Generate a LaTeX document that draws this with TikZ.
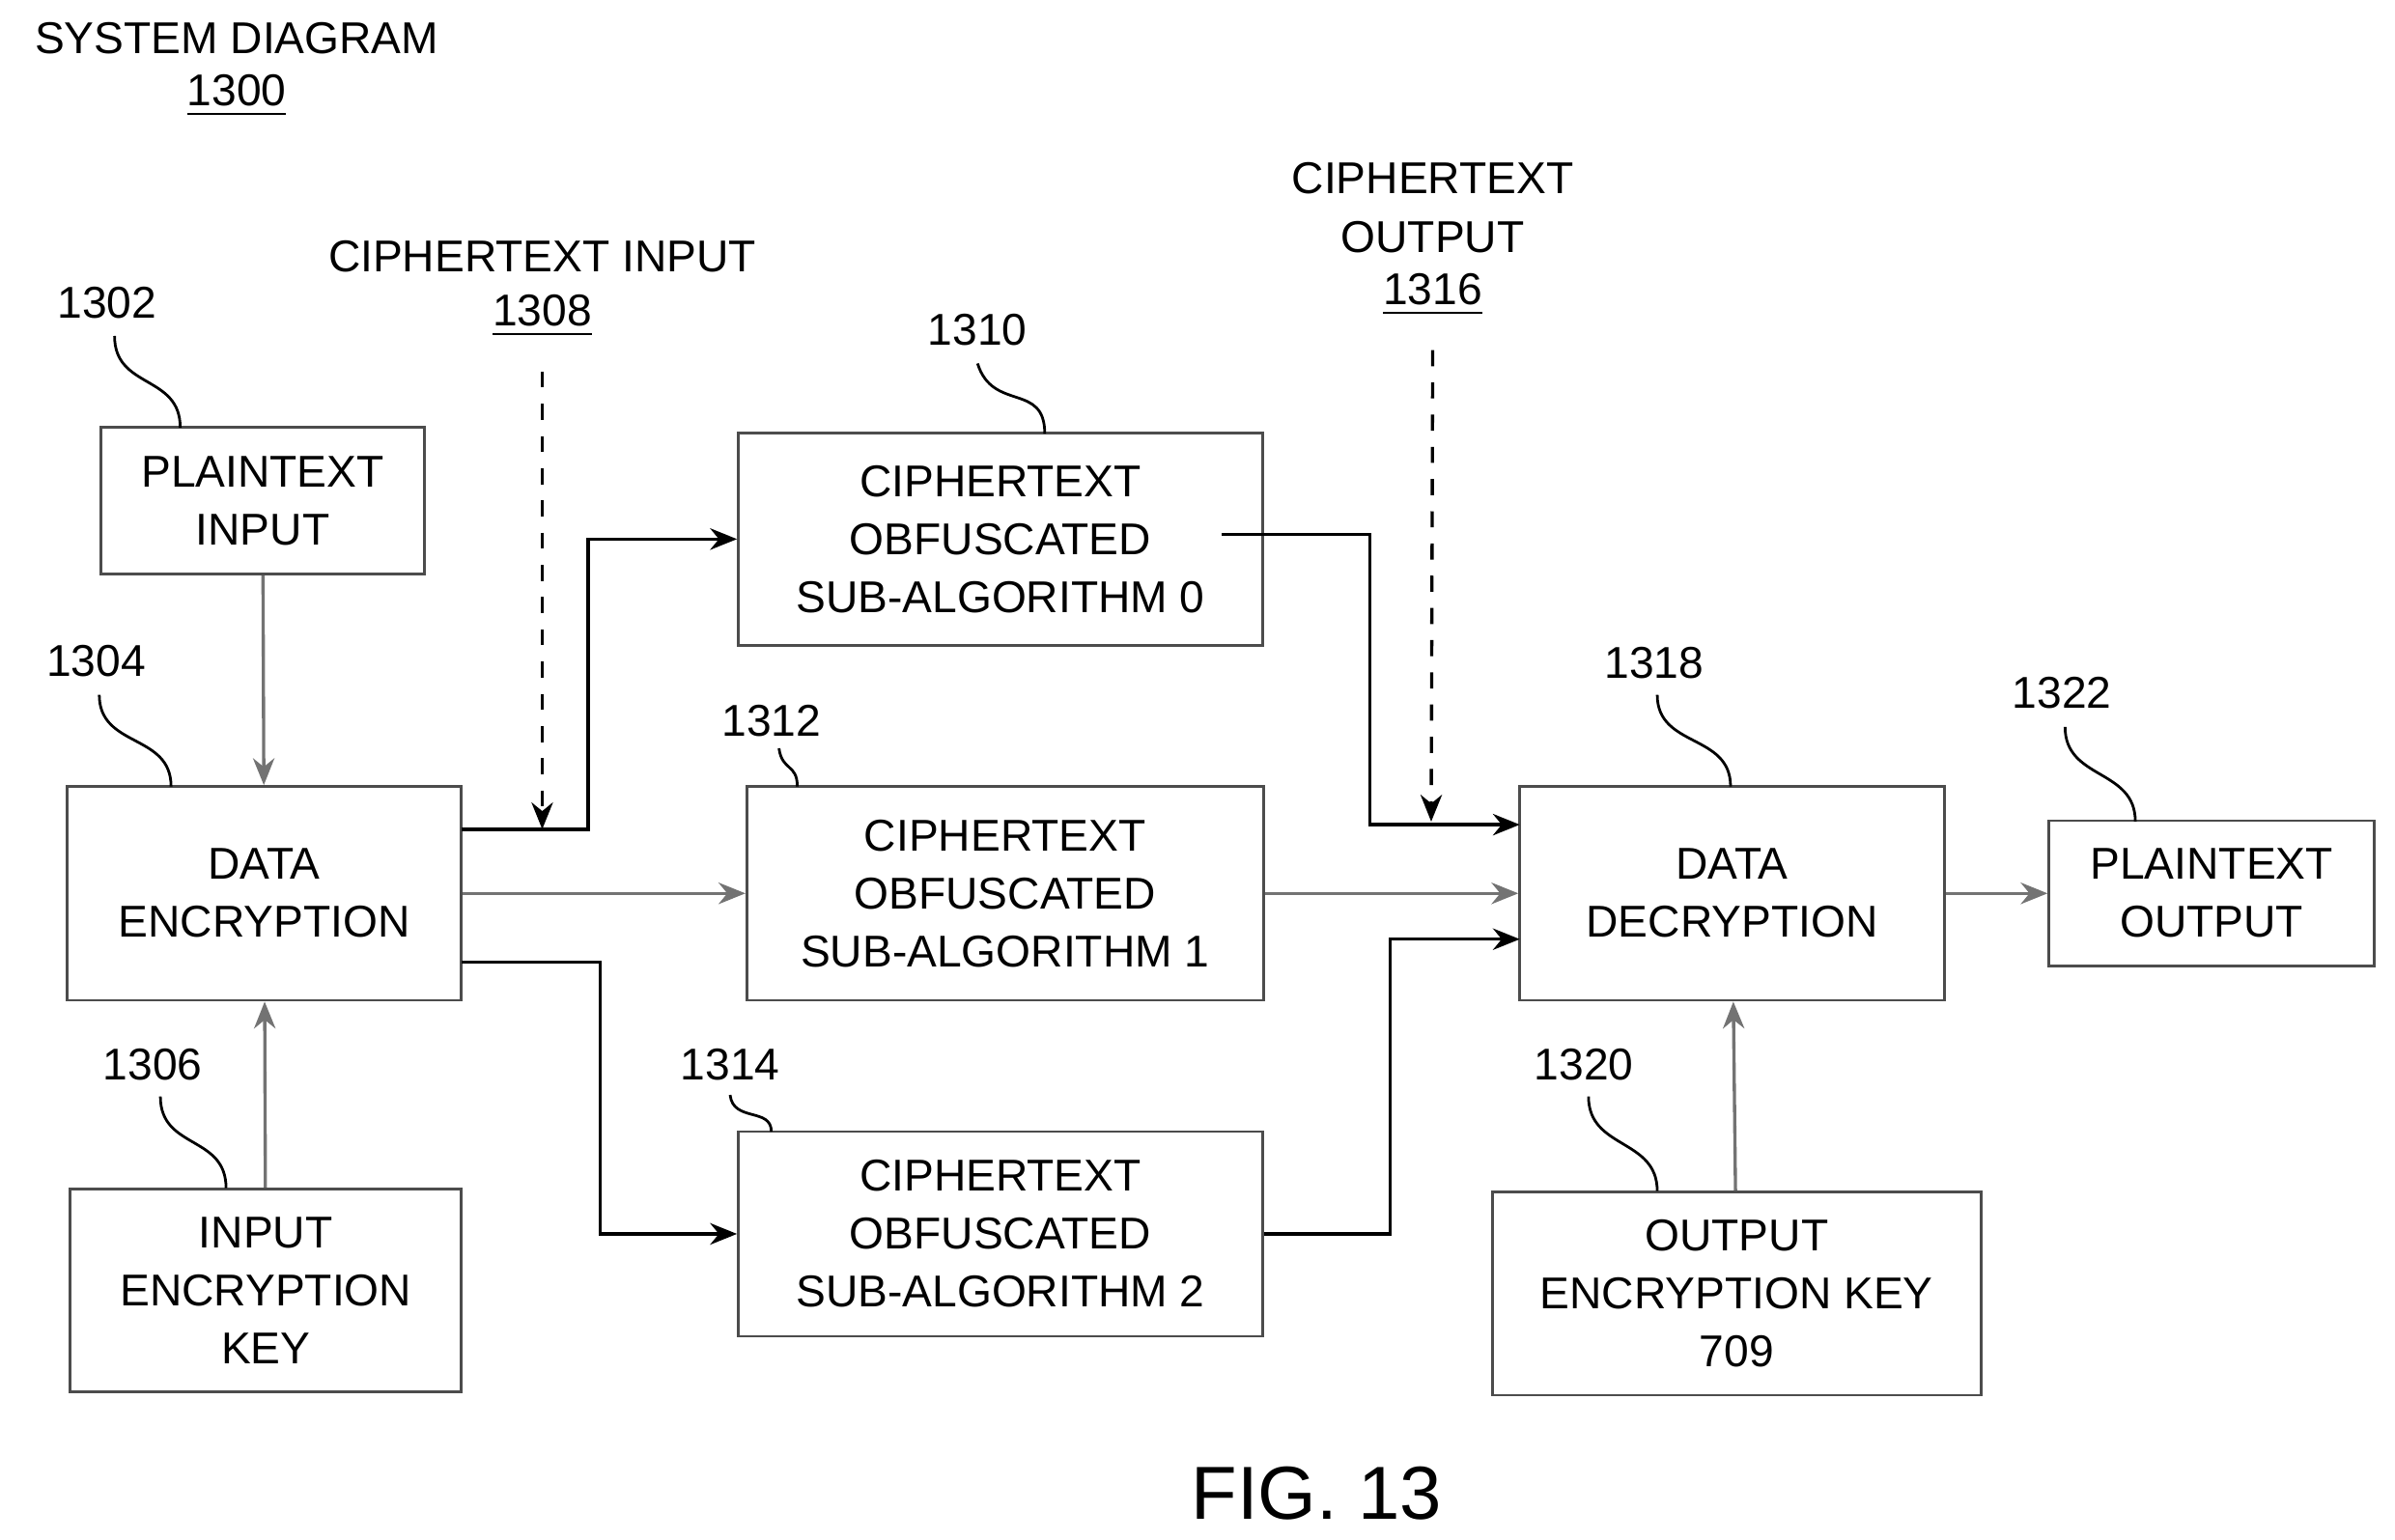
\documentclass[tikz,border=0pt]{standalone}
\usepackage{fontspec}
\setmainfont{Liberation Sans}
\usetikzlibrary{arrows.meta}
\colorlet{lineGray}{black!55}

\begin{document}
\begin{tikzpicture}[
    x=0.01cm, y=-0.01cm,
    font=\fontsize{8.3}{10.8}\selectfont,
    box/.style={
        rectangle,
        draw=black!70,
        line width=0.5pt,
        align=center,
        inner sep=0pt,
      },
    arr/.style={line width=0.6pt, draw=black, -{Stealth[length=5pt,width=4pt]}},
    garr/.style={line width=0.6pt, draw=lineGray, -{Stealth[length=5pt,width=4pt]}},
    darr/.style={arr, dashed},
    lead/.style={line width=0.5pt, draw=black},
    num/.style={inner sep=1pt},
  ]
  \useasboundingbox (0,0) rectangle (1568,1008);

  % title
  \node (title) at (155,25) {SYSTEM DIAGRAM};
  \node (t1300) at (155,63) {\underline{1300}};

  % boxes
  \node[box, minimum width=2.12cm, minimum height=0.96cm] (pin) at (172,328) {PLAINTEXT\\INPUT};
  \node[box, minimum width=2.58cm, minimum height=1.40cm] (enc) at (173,585) {DATA\\ENCRYPTION};
  \node[box, minimum width=2.56cm, minimum height=1.33cm] (ikey) at (174,845) {INPUT\\ENCRYPTION\\KEY};
  \node[box, minimum width=3.43cm, minimum height=1.39cm] (ct0) at (655,353) {CIPHERTEXT\\OBFUSCATED\\SUB-ALGORITHM 0};
  \node[box, minimum width=3.38cm, minimum height=1.40cm] (ct1) at (658,585) {CIPHERTEXT\\OBFUSCATED\\SUB-ALGORITHM 1};
  \node[box, minimum width=3.43cm, minimum height=1.34cm] (ct2) at (655,808) {CIPHERTEXT\\OBFUSCATED\\SUB-ALGORITHM 2};
  \node[box, minimum width=2.78cm, minimum height=1.40cm] (dec) at (1134,585) {DATA\\DECRYPTION};
  \node[box, minimum width=2.13cm, minimum height=0.95cm] (pout) at (1448,585) {PLAINTEXT\\OUTPUT};
  \node[box, minimum width=3.20cm, minimum height=1.33cm] (okey) at (1137,847) {OUTPUT\\ENCRYPTION KEY\\709};

  % reference numbers
  \node[num] (n1302) at (70,198) {1302};
  \node[num] (n1304) at (63,433) {1304};
  \node[num] (n1306) at (100,697) {1306};
  \node[num] (n1310) at (640,216) {1310};
  \node[num] (n1312) at (505,472) {1312};
  \node[num] (n1314) at (478,697) {1314};
  \node[num] (n1318) at (1083,434) {1318};
  \node[num] (n1320) at (1037,697) {1320};
  \node[num] (n1322) at (1350,454) {1322};

  \draw[lead] (75,220) .. controls (75,255) and (118,245) .. (118,280);
  \draw[lead] (65,455) .. controls (65,490) and (112,480) .. (112,515);
  \draw[lead] (105,718) .. controls (105,753) and (148,743) .. (148,778);
  \draw[lead] (640,238) .. controls (650,270) and (684,250) .. (684,284);
  \draw[lead] (510,490) .. controls (512,505) and (522,500) .. (522,515);
  \draw[lead] (478,717) .. controls (480,735) and (505,725) .. (505,741);
  \draw[lead] (1085,455) .. controls (1085,490) and (1133,480) .. (1133,515);
  \draw[lead] (1040,718) .. controls (1040,753) and (1085,745) .. (1085,780);
  \draw[lead] (1352,476) .. controls (1352,511) and (1398,503) .. (1398,538);

  % ciphertext input / output labels
  \node (cin) at (355,168) {CIPHERTEXT INPUT};
  \node (n1308) at (355,207) {\underline{1308}};
  \node[align=center] (cout) at (938,136) {CIPHERTEXT\\OUTPUT};
  \node (n1316) at (938,193) {\underline{1316}};

  \coordinate (jin) at (355,543);
  \coordinate (jout) at (937,538);
  \coordinate (c0out) at (800,350);

  % connectors
  \draw[garr] (pin) -- (enc);
  \draw[garr] (ikey) -- (enc);
  \draw[arr] (302,543) -- (385,543) |- (ct0.west);
  \draw[garr] (enc.east) -- (ct1.west);
  \draw[arr] (302,630) -- (393,630) |- (ct2.west);
  \draw[darr] (n1308.south) ++(0,10) -- (jin);

  \draw[arr] (c0out) -- (897,350) |- (995,540);
  \draw[garr] (ct1.east) -- (dec.west);
  \draw[arr] (ct2.east) -- (910,808) |- (995,615);
  \draw[darr] (n1316.south) ++(0,10) -- (jout);
  \draw[garr] (okey) -- (dec);
  \draw[garr] (dec) -- (pout);

  \node[font=\fontsize{14}{16}\selectfont] (fig) at (862,978) {FIG. 13};
\end{tikzpicture}
\end{document}
